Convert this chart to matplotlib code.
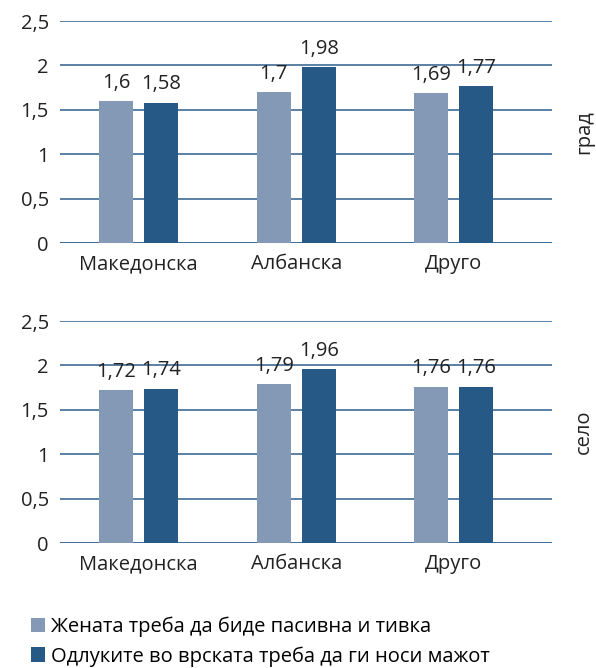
import matplotlib
matplotlib.use("Agg")
import matplotlib.pyplot as plt
import numpy as np

plt.rcParams['font.family'] = ['Open Sans', 'DejaVu Sans']

categories = ["Македонска", "Албанска", "Друго"]
series_names = ["Жената треба да биде пасивна и тивка",
                "Одлуките во врската треба да ги носи мажот"]
grad_passive = [1.6, 1.7, 1.69]
grad_man = [1.58, 1.98, 1.77]
selo_passive = [1.72, 1.79, 1.76]
selo_man = [1.74, 1.96, 1.76]
panel_labels = ["град", "село"]
yticks = [0, 0.5, 1, 1.5, 2, 2.5]
ytick_labels = ["0", "0,5", "1", "1,5", "2", "2,5"]

c_light = "#8399b6"
c_dark = "#265986"
c_grid = "#2d5e8c"
c_text = "#222222"
fs = 14.5

fig = plt.figure(figsize=(5.96, 6.68), dpi=100)
ax1 = fig.add_axes([0.1007, 0.6362, 0.8255, 0.3323])
ax2 = fig.add_axes([0.1007, 0.1871, 0.8255, 0.3323])

def fmt(v):
    s = f"{v:.2f}".rstrip("0").rstrip(".")
    return s.replace(".", ",")

x = np.arange(len(categories))
w = 0.216
off = 0.143
for ax, a, b, lab in [(ax1, grad_passive, grad_man, panel_labels[0]),
                      (ax2, selo_passive, selo_man, panel_labels[1])]:
    ax.set_xlim(-0.5, 2.625)
    ax.set_ylim(0, 2.5)
    for yv in yticks:
        ax.axhline(yv, color=c_grid, lw=1.3 if yv == 0 else 1.1, zorder=1)
    bars1 = ax.bar(x - off, a, w, color=c_light, zorder=2, label=series_names[0])
    bars2 = ax.bar(x + off, b, w, color=c_dark, zorder=2, label=series_names[1])
    for bars, vals in [(bars1, a), (bars2, b)]:
        for r, v in zip(bars, vals):
            ax.annotate(fmt(v), (r.get_x() + r.get_width() / 2, v),
                        xytext=(0, 6), textcoords="offset points",
                        ha="center", va="bottom", fontsize=fs, color=c_text)
    for s in ax.spines.values():
        s.set_visible(False)
    ax.set_yticks(yticks)
    ax.set_yticklabels(ytick_labels, fontsize=fs, color=c_text)
    ax.set_xticks(x)
    ax.set_xticklabels(categories, fontsize=fs, color=c_text)
    ax.tick_params(length=0)
    ax.tick_params(axis="x", pad=8)
    ax.tick_params(axis="y", pad=8)
    ax.text(1.065, 0.5, lab, transform=ax.transAxes, rotation=90,
            ha="center", va="center", fontsize=fs, color=c_text)

handles, labels = ax2.get_legend_handles_labels()
fig.legend(handles, labels, loc="upper left", bbox_to_anchor=(0.052, 0.077),
           frameon=False, fontsize=fs, handlelength=0.7, handleheight=0.7,
           handletextpad=0.3, labelspacing=0.45, borderaxespad=0,
           borderpad=0)

fig.savefig("out.png", dpi=100)
